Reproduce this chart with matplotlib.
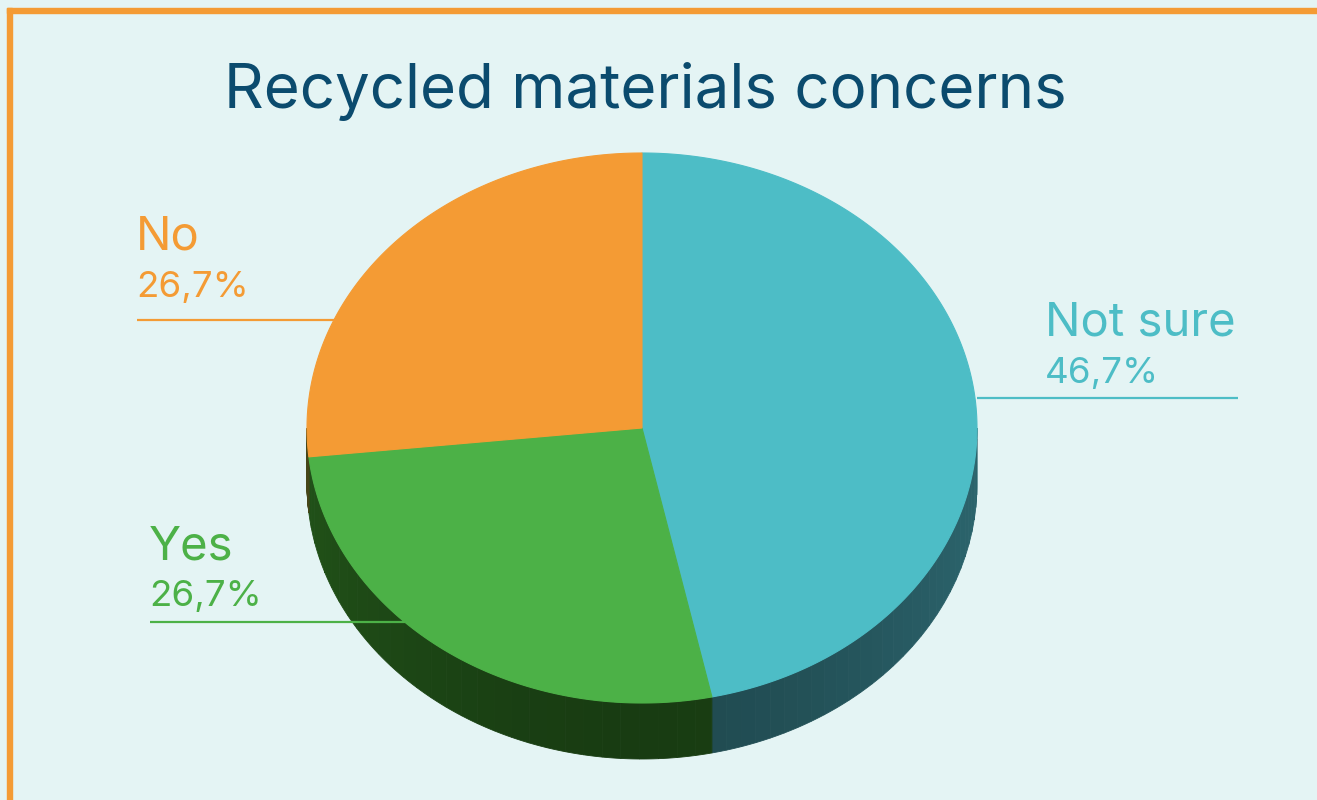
import numpy as np
import matplotlib
matplotlib.use("Agg")
import matplotlib.pyplot as plt
from matplotlib.patches import Polygon, Rectangle

# ---- data ----
categories = ["Not sure", "Yes", "No"]
values = [46.7, 26.7, 26.7]
pct_labels = ["46,7%", "26,7%", "26,7%"]
title = "Recycled materials concerns"

# ---- styles ----
top_colors = ["#4DBDC6", "#4CB147", "#F49B34"]
side_colors = ["#24535A", "#1B4314", "#3A3A14"]
label_colors = ["#4DBDC6", "#4CB147", "#F49B34"]
bg = "#E4F4F4"
border = "#F49B34"
title_color = "#0B4B6E"
FONT = ["Inter", "DejaVu Sans"]

W, H = 1317, 800
fig = plt.figure(figsize=(W / 100, H / 100), dpi=100)
fig.patch.set_facecolor(bg)
ax = fig.add_axes([0, 0, 1, 1])
ax.set_xlim(0, W)
ax.set_ylim(H, 0)
ax.axis("off")
ax.set_facecolor(bg)

# border (top and left)
ax.add_patch(Rectangle((7, 8), W, 5, color=border, zorder=1))
ax.add_patch(Rectangle((7, 8), 5, H, color=border, zorder=1))

ax.text(645, 108, title, ha="center", va="baseline", fontsize=44.5,
        color=title_color, family=FONT, zorder=5)

# ---- 3D pie geometry ----
cx, cy, rx, ry, depth = 642, 428, 335, 275, 56
total = sum(values)
start = 90.0
angles = []
for v in values:
    a1 = start
    a2 = start - 360.0 * v / total
    angles.append((a1, a2))
    start = a2

# side walls (visible in lower half)
for (a1, a2), sc in zip(angles, side_colors):
    lo, hi = min(a1, a2), max(a1, a2)
    for base in (-360, 0, 360):
        s = max(lo, 180 + base)
        e = min(hi, 360 + base)
        if e > s:
            ts = np.linspace(s, e, 240)
            n = 30
            for k in range(n):
                seg = ts[k * len(ts) // n: (k + 1) * len(ts) // n + 1]
                xs = cx + rx * np.cos(np.radians(seg))
                ys = cy - ry * np.sin(np.radians(seg))
                poly = np.vstack([np.column_stack([xs, ys]),
                                  np.column_stack([xs[::-1], ys[::-1] + depth])])
                mid = np.radians(seg.mean())
                shade = 0.9 + 0.3 * abs(np.cos(mid)) ** 2
                col = np.clip(np.array(matplotlib.colors.to_rgb(sc)) * shade, 0, 1)
                ax.add_patch(Polygon(poly, closed=True, facecolor=col,
                                     edgecolor=col, lw=0.6, zorder=2))

# leader lines (under the top face)
line_specs = [(977, 1238, 398), (150, 405, 622), (137, 335, 320)]
for (x0, x1, y), c in zip(line_specs, label_colors):
    ax.plot([x0, x1], [y, y], color=c, lw=1.6, zorder=2.5, solid_capstyle="butt")

# top faces
for (a1, a2), tc in zip(angles, top_colors):
    ts = np.linspace(a1, a2, 300)
    xs = cx + rx * np.cos(np.radians(ts))
    ys = cy - ry * np.sin(np.radians(ts))
    poly = np.vstack([[cx, cy], np.column_stack([xs, ys])])
    ax.add_patch(Polygon(poly, closed=True, facecolor=tc, edgecolor=tc,
                         lw=0.8, zorder=3))

# labels (name baseline, percent baseline)
label_pos = [(1045, 335, 1045, 383), (149, 560, 149, 606), (136, 250, 136, 297)]
for (nx, ny, px, py), cat, pl, c in zip(label_pos, categories, pct_labels, label_colors):
    ax.text(nx, ny, cat, ha="left", va="baseline", fontsize=34, color=c,
            family=FONT, zorder=5)
    ax.text(px, py, pl, ha="left", va="baseline", fontsize=26.5, color=c,
            family=FONT, zorder=5)

fig.savefig("out.png", dpi=100, facecolor=bg)
